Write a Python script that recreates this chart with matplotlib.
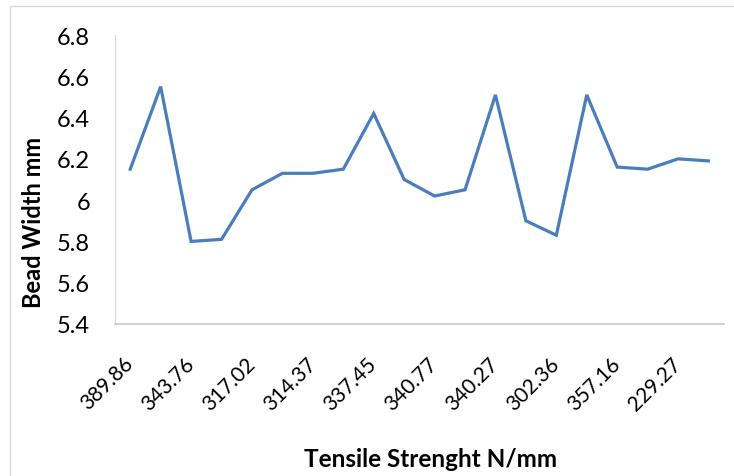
import matplotlib.pyplot as plt
import matplotlib.patches as mpatches
import numpy as np

plt.rcParams['font.family'] = ['Lato', 'DejaVu Sans']

# bead width per test, 20 samples (only every other tensile value is labelled)
bead_width = [6.15, 6.55, 5.80, 5.81, 6.05, 6.13, 6.13, 6.15, 6.42, 6.10,
              6.02, 6.05, 6.51, 5.90, 5.83, 6.51, 6.16, 6.15, 6.20, 6.19]
tick_labels = ["389.86", "343.76", "317.02", "314.37", "337.45",
               "340.77", "340.27", "302.36", "357.16", "229.27"]

fig = plt.figure(figsize=(7.34, 4.77), dpi=100)
ax = fig.add_axes([0.1567, 0.3187, 0.8293, 0.6058])

# outer chart border like the spreadsheet frame
fig.patches.append(mpatches.Rectangle((10 / 734, -0.05), 1.1, 1 - 7 / 477 + 0.05,
                                      transform=fig.transFigure, fill=False,
                                      edgecolor="#d9d9d9", linewidth=1))

x = np.arange(len(bead_width))
ax.plot(x, bead_width, color="#4a7ebb", linewidth=2.3, solid_joinstyle="miter")

ax.set_xlim(-0.5, len(bead_width) - 0.5)
ax.set_ylim(5.4, 6.8)
ax.set_yticks(np.arange(5.4, 6.81, 0.2))
ax.set_yticklabels(["5.4", "5.6", "5.8", "6", "6.2", "6.4", "6.6", "6.8"], fontsize=17)
ax.set_xticks(x[::2])
ax.set_xticklabels(tick_labels, rotation=45, ha="right", va="center",
                   rotation_mode="anchor", fontsize=15)
ax.tick_params(length=0)
ax.tick_params(axis="y", pad=18)
ax.tick_params(axis="x", pad=26)

for side in ["top", "right"]:
    ax.spines[side].set_visible(False)
ax.spines["left"].set_color("#d9d9d9")
ax.spines["bottom"].set_color("#c8c8c8")
ax.spines["bottom"].set_linewidth(1.2)

ax.set_ylabel("Bead Width mm", fontsize=17, fontweight="bold")
ax.yaxis.set_label_coords(-0.115, 0.356)
ax.set_xlabel("Tensile Strenght N/mm", fontsize=17.5, fontweight="bold")
ax.xaxis.set_label_coords(0.519, -0.425)

fig.savefig("out.png", dpi=100)
